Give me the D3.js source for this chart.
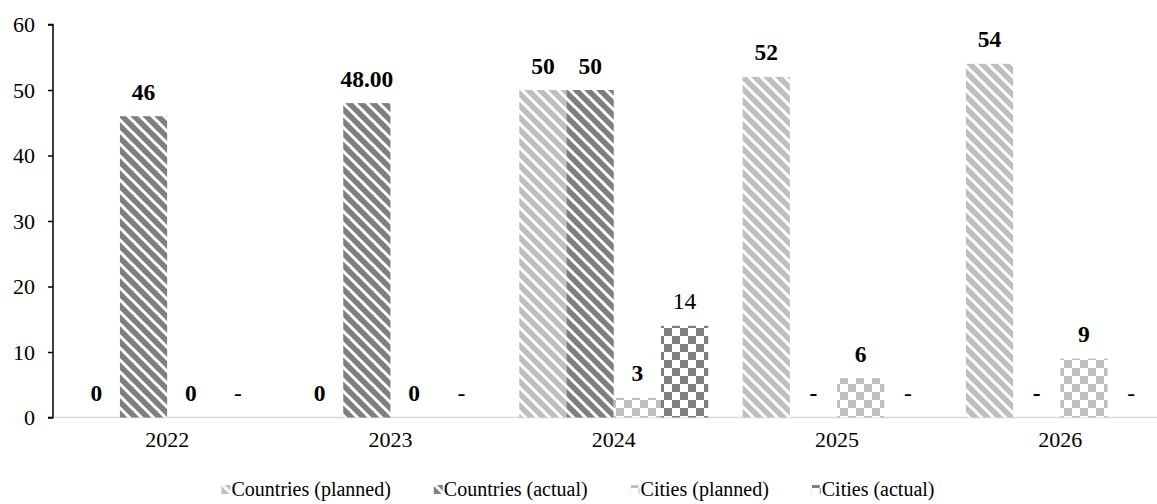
<!DOCTYPE html>
<html>
<head>
<meta charset="utf-8">
<script src="https://cdn.jsdelivr.net/npm/d3@7"></script>
<style>
  html, body { margin: 0; padding: 0; background: #fff; }
  svg text { font-family: "Liberation Serif", "Times New Roman", "DejaVu Serif", serif !important; }
</style>
</head>
<body>
<svg id="chart" width="1157" height="504"></svg>
<script>
// ---- data ----
const years = ["2022", "2023", "2024", "2025", "2026"];
const seriesNames = ["Countries (planned)", "Countries (actual)", "Cities (planned)", "Cities (actual)"];
const countriesPlanned = [0, 0, 50, 52, 54];
const countriesActual = [46, 48, 50, 0, 0];
const citiesPlanned = [0, 0, 3, 6, 9];
const citiesActual = [0, 0, 14, 0, 0];
const countriesPlannedLabels = ["0", "0", "50", "52", "54"];
const countriesActualLabels = ["46", "48.00", "50", "-", "-"];
const citiesPlannedLabels = ["0", "0", "3", "6", "9"];
const citiesActualLabels = ["-", "-", "14", "-", "-"];
const yTicks = [0, 10, 20, 30, 40, 50, 60];

const series = [
  { name: seriesNames[0], values: countriesPlanned, labels: countriesPlannedLabels, fill: "url(#stripeLight)", bold: true },
  { name: seriesNames[1], values: countriesActual, labels: countriesActualLabels, fill: "url(#stripeDark)", bold: true },
  { name: seriesNames[2], values: citiesPlanned, labels: citiesPlannedLabels, fill: "url(#checkLight)", bold: true },
  { name: seriesNames[3], values: citiesActual, labels: citiesActualLabels, fill: "url(#checkDark)", bold: false }
];

const svg = d3.select("#chart");
const light = "#bfbfbf", dark = "#7f7f7f";
const axisFont = 22, labelFont = 23.5, legendFont = 20;

// ---- patterns ----
const defs = svg.append("defs");
function stripe(id, color) {
  const p = defs.append("pattern").attr("id", id).attr("patternUnits", "userSpaceOnUse")
    .attr("width", 12).attr("height", 12);
  p.append("rect").attr("width", 12).attr("height", 12).attr("fill", color);
  p.append("path").attr("d", "M-3,-3 L15,15 M-9,3 L3,15 M9,-3 L15,3")
    .attr("stroke", "#fff").attr("stroke-width", 3);
}
function checker(id, color) {
  const p = defs.append("pattern").attr("id", id).attr("patternUnits", "userSpaceOnUse")
    .attr("width", 16).attr("height", 16);
  p.append("rect").attr("width", 16).attr("height", 16).attr("fill", "#fff");
  p.append("rect").attr("width", 8).attr("height", 8).attr("fill", color);
  p.append("rect").attr("x", 8).attr("y", 8).attr("width", 8).attr("height", 8).attr("fill", color);
}
stripe("stripeLight", light);
stripe("stripeDark", dark);
checker("checkLight", light);
checker("checkDark", dark);

// ---- scales ----
const axisX = 53;
const y = d3.scaleLinear().domain([0, 60]).range([417.5, 24.5]);
const x = d3.scaleBand().domain(years).range([55.5, 1172]).padding(0);
const groupFrac = 0.846;
const xs = d3.scaleBand().domain(seriesNames)
  .range([x.bandwidth() * (1 - groupFrac) / 2, x.bandwidth() * (1 + groupFrac) / 2]).padding(0);

// ---- x axis line ----
svg.append("line").attr("x1", axisX).attr("x2", 1157).attr("y1", y(0)).attr("y2", y(0))
  .attr("stroke", "#d9d9d9").attr("stroke-width", 1.5);

// ---- bars ----
series.forEach(s => {
  svg.append("g").selectAll("rect").data(years).join("rect")
    .attr("x", (d) => x(d) + xs(s.name))
    .attr("width", xs.bandwidth())
    .attr("y", (d, i) => y(s.values[i]))
    .attr("height", (d, i) => y(0) - y(s.values[i]))
    .attr("fill", s.fill);
});

// ---- data labels ----
series.forEach(s => {
  svg.append("g").selectAll("text").data(years).join("text")
    .attr("x", (d) => x(d) + xs(s.name) + xs.bandwidth() / 2)
    .attr("y", (d, i) => y(s.values[i]) - 16.5)
    .attr("text-anchor", "middle")
    .attr("font-size", labelFont)
    .attr("font-weight", s.bold ? "bold" : "normal")
    .attr("fill", "#000")
    .text((d, i) => s.labels[i]);
});

// ---- y axis ----
const yAxis = d3.axisLeft(y).tickValues(yTicks).tickSize(5).tickPadding(13).tickFormat(d3.format("d"));
const yg = svg.append("g").attr("transform", `translate(${axisX},0)`).call(yAxis);
yg.select(".domain").attr("stroke", "#000").attr("stroke-width", 1.5).attr("d", `M-5,${y(60)}H0V${y(0)}H-5`);
yg.selectAll(".tick line").attr("stroke", "#000").attr("stroke-width", 1.5);
yg.selectAll(".tick text").attr("font-size", axisFont).attr("fill", "#000");

// ---- x axis labels ----
const xAxis = d3.axisBottom(x).tickSize(0).tickPadding(14);
const xg = svg.append("g").attr("transform", `translate(0,${y(0)})`).call(xAxis);
xg.select(".domain").remove();
xg.selectAll(".tick text").attr("font-size", axisFont).attr("fill", "#000");

// ---- legend ----
const legendY = 496;
const lg = svg.append("g");
const items = lg.selectAll("g").data(series).join("g");
items.append("rect").attr("width", 9).attr("height", 9).attr("y", -11).attr("fill", d => d.fill);
items.append("text").attr("x", 10).attr("y", 0).attr("font-size", legendFont).attr("fill", "#000").text(d => d.name);
const widths = [];
items.each(function () { widths.push(this.getBBox().width); });
const span = 713;
const gap = (span - d3.sum(widths)) / (widths.length - 1);
let cx = 0;
items.each(function (d, i) {
  d3.select(this).attr("transform", `translate(${cx},${legendY})`);
  cx += widths[i] + gap;
});
lg.attr("transform", `translate(${578 - span / 2},0)`);
</script>
</body>
</html>
